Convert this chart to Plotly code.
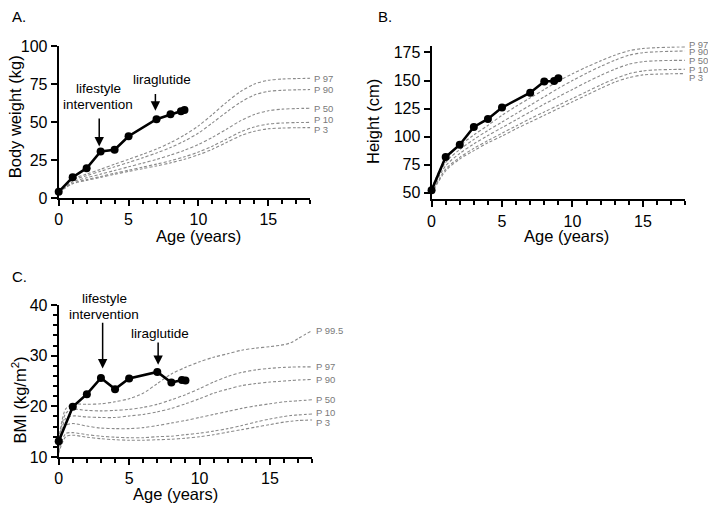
import plotly.graph_objects as go

# ---------------- Data ----------------
patient_age = [0, 1, 2, 3, 4, 5, 7, 8, 8.75, 9]
patient_weight = [4.2, 13.8, 19.7, 30.7, 31.8, 40.7, 51.9, 55.1, 57.2, 58.0]
patient_height_age = [0, 1, 2, 3, 4, 5, 7, 8, 8.7, 9]
patient_height = [52.3, 81.9, 92.8, 108.6, 115.8, 125.9, 139.1, 149.1, 149.5, 152.0]
patient_bmi = [13.1, 19.9, 22.4, 25.6, 23.4, 25.5, 26.8, 24.7, 25.2, 25.1]

ref_age = [0, 1, 2, 3, 4, 5, 6, 7, 8, 9, 10, 11, 12, 13, 14, 15, 16, 17, 18]
weight_pct_labels = ["P 97", "P 90", "P 50", "P 10", "P 3"]
weight_p97 = [4.2, 12.5, 15.8, 19, 22.3, 25.5, 28.8, 32.3, 36.5, 41.5, 47.5, 55, 63, 70, 75, 77.5, 78.3, 78.6, 78.8]
weight_p90 = [4.1, 11.8, 14.8, 17.7, 20.6, 23.5, 26.5, 29.7, 33.3, 37.6, 42.8, 49.5, 56.5, 63, 67.8, 70.2, 70.9, 71.2, 71.4]
weight_p50 = [4.0, 10.8, 13.4, 15.8, 18.2, 20.6, 23, 25.5, 28.3, 31.5, 35.3, 40, 45.3, 50.8, 55, 57.5, 58.5, 58.9, 59.1]
weight_p10 = [3.9, 9.9, 12.2, 14.3, 16.4, 18.4, 20.4, 22.4, 24.6, 27.2, 30.3, 34.2, 38.8, 43.5, 46.8, 48.7, 49.4, 49.7, 49.8]
weight_p3 = [3.8, 9.5, 11.7, 13.7, 15.7, 17.6, 19.4, 21.2, 23.2, 25.6, 28.5, 32.2, 36.6, 41, 44, 45.6, 46.1, 46.3, 46.4]

height_pct_labels = ["P 97", "P 90", "P 50", "P 10", "P 3"]
height_p97 = [54, 80, 92, 101.5, 110, 119, 127, 134.5, 142, 149.5, 156, 162, 167.5, 172.5, 176.5, 178.5, 179.3, 179.7, 180]
height_p90 = [53, 77, 88.5, 97.5, 105.5, 113, 120.5, 128, 135.5, 143, 150, 156.5, 162.5, 168, 172.5, 174.8, 175.6, 176, 176.3]
height_p50 = [51.5, 74, 85, 93.5, 101, 108, 115, 122, 129, 135.5, 142, 148.5, 154.5, 160, 164.5, 166.8, 167.6, 167.9, 168]
height_p10 = [50, 71, 81.5, 89.5, 96.5, 103, 109.5, 116, 122, 128, 134, 140, 146, 151.5, 156, 158.5, 159.5, 159.8, 160]
height_p3 = [49, 69.5, 80, 87.5, 94.5, 100.5, 107, 113, 119, 125, 131, 137, 143, 148.5, 152.5, 155, 155.7, 156, 156.2]

bmi_age = [0, 0.5, 1, 2, 3, 4, 5, 6, 7, 8, 9, 10, 11, 12, 13, 14, 15, 16, 16.5, 17, 18]
bmi_pct_labels = ["P 99.5", "P 97", "P 90", "P 50", "P 10", "P 3"]
bmi_p995 = [13.5, 19.5, 20.4, 20.4, 20.5, 20.9, 21.5, 22.6, 24.5, 26.4, 27.7, 28.8, 29.7, 30.4, 31.1, 31.5, 31.8, 32.2, 32.6, 33.4, 35.0]
bmi_p97 = [12.9, 18.6, 19.4, 19.2, 19.1, 19.2, 19.4, 19.8, 20.4, 21.3, 22.3, 23.5, 24.8, 25.9, 26.7, 27.2, 27.5, 27.7, 27.75, 27.8, 27.8]
bmi_p90 = [12.4, 17.6, 18.1, 17.9, 17.8, 17.8, 18.1, 18.4, 18.9, 19.6, 20.5, 21.5, 22.6, 23.4, 24.1, 24.5, 24.8, 25.0, 25.1, 25.2, 25.3]
bmi_p50 = [11.8, 16.2, 16.6, 16.1, 15.7, 15.6, 15.6, 15.8, 16.2, 16.7, 17.2, 17.8, 18.4, 19.0, 19.6, 20.1, 20.5, 20.9, 21.0, 21.1, 21.3]
bmi_p10 = [11.1, 14.6, 14.8, 14.4, 14.1, 13.9, 13.8, 13.8, 14.0, 14.1, 14.4, 14.7, 15.1, 15.6, 16.2, 16.9, 17.5, 18.0, 18.2, 18.3, 18.5]
bmi_p3 = [10.7, 14.0, 14.3, 13.9, 13.6, 13.4, 13.3, 13.3, 13.4, 13.5, 13.7, 14.0, 14.4, 14.9, 15.4, 15.9, 16.4, 16.9, 17.05, 17.2, 17.3]

x_ticks = [0, 5, 10, 15]
weight_ticks = [0, 25, 50, 75, 100]
height_ticks = [50, 75, 100, 125, 150, 175]
bmi_ticks = [10, 20, 30, 40]

# ---------------- Figure ----------------
W, H = 708, 514
FONT = "Liberation Sans, Arial, Helvetica, sans-serif"
GRAY = "#8a8a8a"
LABEL_GRAY = "#7a7a7a"


def px_x(p):
    return p / W


def px_y(p):
    return 1 - p / H


fig = go.Figure()

panels = [
    ("x", "y", ref_age, [weight_p97, weight_p90, weight_p50, weight_p10, weight_p3], weight_pct_labels,
     patient_age, patient_weight, [0, 0, 0, 2.5, -1.5]),
    ("x2", "y2", ref_age, [height_p97, height_p90, height_p50, height_p10, height_p3], height_pct_labels,
     patient_height_age, patient_height, [2.5, 0, 0, 0, -3.5]),
    ("x3", "y3", bmi_age, [bmi_p995, bmi_p97, bmi_p90, bmi_p50, bmi_p10, bmi_p3], bmi_pct_labels,
     patient_age, patient_bmi, [0, 0, 0, 0, 1.5, -2]),
]

annotations = []
for xa, ya, ages, curves, labels, pa, pv, shifts in panels:
    for curve, lab, sh in zip(curves, labels, shifts):
        fig.add_trace(go.Scatter(x=ages, y=curve, xaxis=xa, yaxis=ya, mode="lines",
                                 line=dict(color=GRAY, width=1.1, dash="3px,2px", shape="spline", smoothing=0.8),
                                 hoverinfo="skip", showlegend=False))
        annotations.append(dict(x=ages[-1], y=curve[-1], xref=xa, yref=ya, text=lab, showarrow=False,
                                xanchor="left", yanchor="middle", xshift=2, yshift=sh,
                                font=dict(family=FONT, size=9.5, color=LABEL_GRAY)))
    fig.add_trace(go.Scatter(x=pa, y=pv, xaxis=xa, yaxis=ya, mode="lines+markers",
                             line=dict(color="black", width=2.6),
                             marker=dict(color="black", size=8),
                             cliponaxis=False, showlegend=False))

axis_common = dict(showline=True, linecolor="black", linewidth=2, ticks="outside", ticklen=6,
                   tickwidth=2, tickcolor="black", showgrid=False, zeroline=False,
                   tickfont=dict(family=FONT, size=16, color="black"))

xdomA = [px_x(55), px_x(308)]
xdomB = [px_x(430), px_x(685)]
xdomC = [px_x(55), px_x(310)]

xminor = dict(ticks="outside", ticklen=4, tickwidth=1.5, tickcolor="black", dtick=1, tick0=0)

fig.update_layout(
    width=W, height=H, margin=dict(l=0, r=0, t=0, b=0),
    paper_bgcolor="white", plot_bgcolor="white", showlegend=False,
    xaxis=dict(domain=xdomA, anchor="y", range=[0, 18], tickvals=x_ticks, minor=xminor, **axis_common),
    yaxis=dict(domain=[px_y(196.7), px_y(39.3)], anchor="x", range=[0, 100], tickvals=weight_ticks, **axis_common),
    xaxis2=dict(domain=xdomB, anchor="y2", range=[0, 18], tickvals=x_ticks, minor=xminor, **axis_common),
    yaxis2=dict(domain=[px_y(198), px_y(39.6)], anchor="x2", range=[44, 180.5], tickvals=height_ticks, **axis_common),
    xaxis3=dict(domain=xdomC, anchor="y3", range=[0, 18], tickvals=x_ticks, minor=xminor, **axis_common),
    yaxis3=dict(domain=[px_y(464.3), px_y(307.3)], anchor="x3", range=[10, 40], tickvals=bmi_ticks,
                minor=dict(ticks="outside", ticklen=4, tickwidth=1.5, tickcolor="black", dtick=2, tick0=10),
                **axis_common),
)

# arrows (tip at x,y ; tail at ax,ay)
arrow_style = dict(showarrow=True, arrowhead=2, arrowsize=1.25, arrowwidth=1.5, arrowcolor="black", text="",
                   standoff=0)
annotations += [
    dict(x=2.9, y=34.0, ax=2.9, ay=53.4, xref="x", yref="y", axref="x", ayref="y", **arrow_style),
    dict(x=6.92, y=57.5, ax=6.92, ay=69.5, xref="x", yref="y", axref="x", ayref="y", **arrow_style),
    dict(x=3.12, y=27.5, ax=3.12, ay=36.8, xref="x3", yref="y3", axref="x3", ayref="y3", **arrow_style),
    dict(x=7.06, y=28.2, ax=7.06, ay=32.9, xref="x3", yref="y3", axref="x3", ayref="y3", **arrow_style),
]


def paper_text(text, x, y, size=16, angle=0, xanchor="center"):
    return dict(text=text, x=px_x(x), y=px_y(y), xref="paper", yref="paper", showarrow=False,
                xanchor=xanchor, yanchor="middle", textangle=angle,
                font=dict(family=FONT, size=size, color="black"))


annotations += [
    paper_text("lifestyle", 95, 83, 13.5),
    paper_text("intervention", 95, 100, 13.5),
    paper_text("liraglutide", 158.5, 74, 13.5),
    paper_text("lifestyle", 100.8, 300, 13.5),
    paper_text("intervention", 100.5, 316.5, 13.5),
    paper_text("liraglutide", 156.5, 336.5, 13.5),
    paper_text("A.", 6, 9, 15, xanchor="left"),
    paper_text("B.", 374, 9, 15, xanchor="left"),
    paper_text("C.", 6, 278, 15, xanchor="left"),
    paper_text("Body weight (kg)", 11, 112, 16.5, angle=-90),
    paper_text("Age (years)", 196, 236, 16.5),
    paper_text("Height (cm)", 371, 117, 16.5, angle=-90),
    paper_text("Age (years)", 566, 236, 16.5),
    paper_text("BMI (kg/m<sup>2</sup>)", 15, 405, 16.5, angle=-90),
    paper_text("Age (years)", 172, 503, 16.5),
]

fig.update_layout(annotations=annotations)
fig.write_html("out.html")
